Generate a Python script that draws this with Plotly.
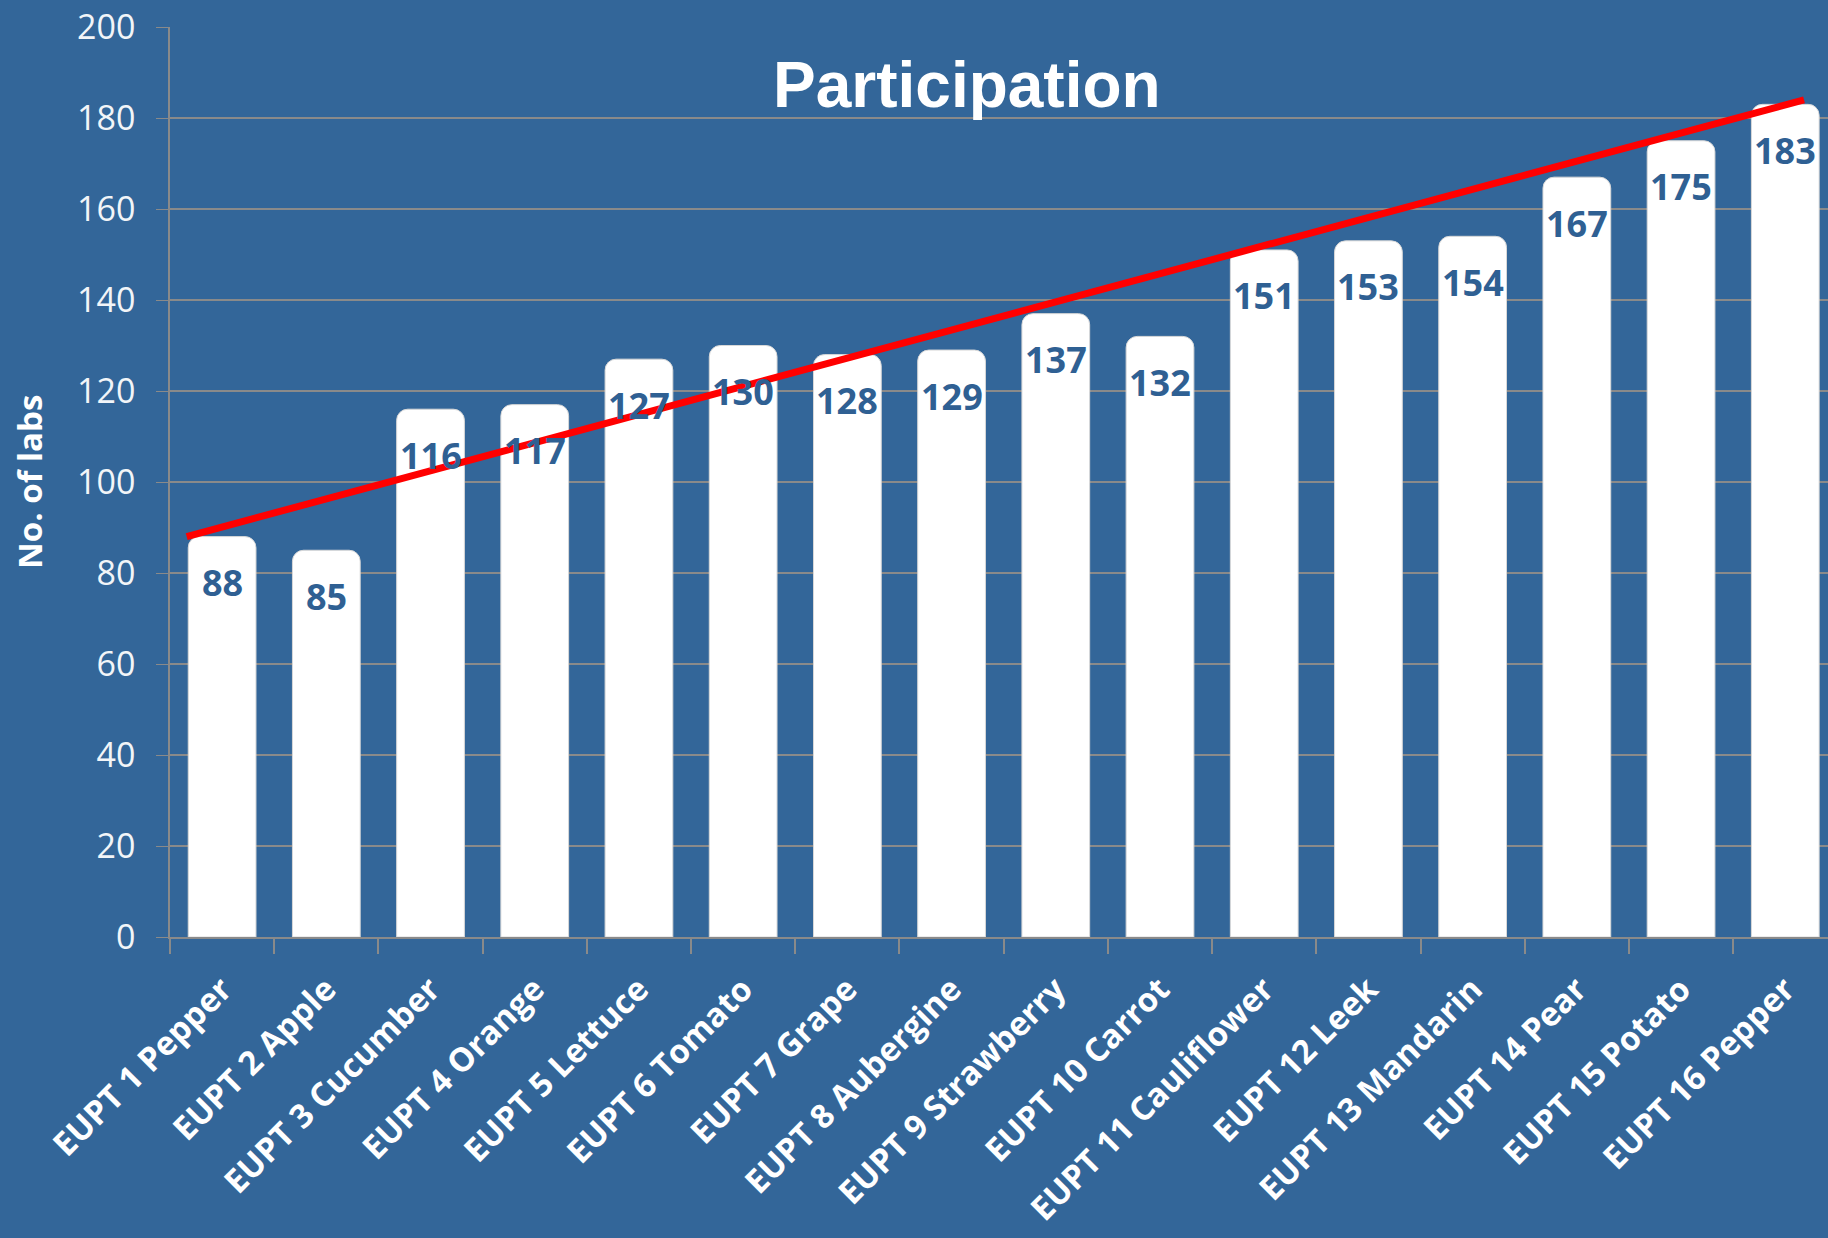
import plotly.graph_objects as go

categories = ["EUPT 1 Pepper", "EUPT 2 Apple", "EUPT 3 Cucumber", "EUPT 4 Orange",
              "EUPT 5 Lettuce", "EUPT 6 Tomato", "EUPT 7 Grape", "EUPT 8 Aubergine",
              "EUPT 9 Strawberry", "EUPT 10 Carrot", "EUPT 11 Cauliflower", "EUPT 12 Leek",
              "EUPT 13 Mandarin", "EUPT 14 Pear", "EUPT 15 Potato", "EUPT 16 Pepper"]
labs = [88, 85, 116, 117, 127, 130, 128, 129, 137, 132, 151, 153, 154, 167, 175, 183]
trend_values = [88, 184]
y_ticks = [0, 20, 40, 60, 80, 100, 120, 140, 160, 180, 200]

BG = "#336699"
GRID = "#8a8a8a"
n = len(categories)
x_range = [-0.5, n - 0.59]

fig = go.Figure()
fig.add_trace(go.Bar(
    x=categories, y=labs,
    marker=dict(color="white", line=dict(color="#d8d8d8", width=1)),
    width=0.65, hoverinfo="x+y", showlegend=False,
))
fig.add_trace(go.Scatter(
    x=[0 - 0.34, (n - 1) + 0.18], y=trend_values, xaxis="x2", yaxis="y",
    mode="lines", line=dict(color="#ff0000", width=7), showlegend=False,
))

for c, v in zip(categories, labs):
    fig.add_annotation(x=c, y=v, xref="x", yref="y", text=str(v), showarrow=False,
                       yshift=-46, font=dict(family="Open Sans", size=36, color="#2f6093", weight="bold"))

fig.add_annotation(xref="paper", yref="paper", x=0.481, y=1, yshift=-58, yanchor="middle",
                   text="<b>Participation</b>", showarrow=False,
                   font=dict(family="Liberation Sans", size=64, color="white"))
fig.add_annotation(xref="paper", yref="paper", x=0, y=0.5, xshift=-141, textangle=-90,
                   text="<b>No. of labs</b>", showarrow=False, xanchor="center", yanchor="middle",
                   font=dict(family="Open Sans", size=33, color="white"))

fig.update_layout(
    width=1828, height=1238,
    paper_bgcolor=BG, plot_bgcolor=BG,
    margin=dict(l=170, r=0, t=27, b=301),
    barcornerradius=11,
    xaxis=dict(type="category", range=x_range, tickson="boundaries", ticks="outside",
               ticklen=15, tickcolor=GRID, tickwidth=1.5, showline=True, linecolor=GRID, linewidth=1.5,
               showgrid=False, tickangle=-45, ticklabelstandoff=18,
               tickfont=dict(family="Open Sans", size=33, color="white", weight="bold")),
    xaxis2=dict(overlaying="x", range=x_range, visible=False, showgrid=False),
    yaxis=dict(range=[0, 200], tickvals=y_ticks, showgrid=True, gridcolor=GRID, gridwidth=1.5,
               ticks="outside", ticklen=12, tickcolor=GRID, showline=True, linecolor=GRID, linewidth=1.5,
               zeroline=False, ticklabelstandoff=14,
               tickfont=dict(family="Open Sans", size=34, color="#f2f5f8")),
)

fig.write_html("out.html", config={"displayModeBar": False},
               post_script="document.body.style.margin='0';document.body.style.background='#336699';")
